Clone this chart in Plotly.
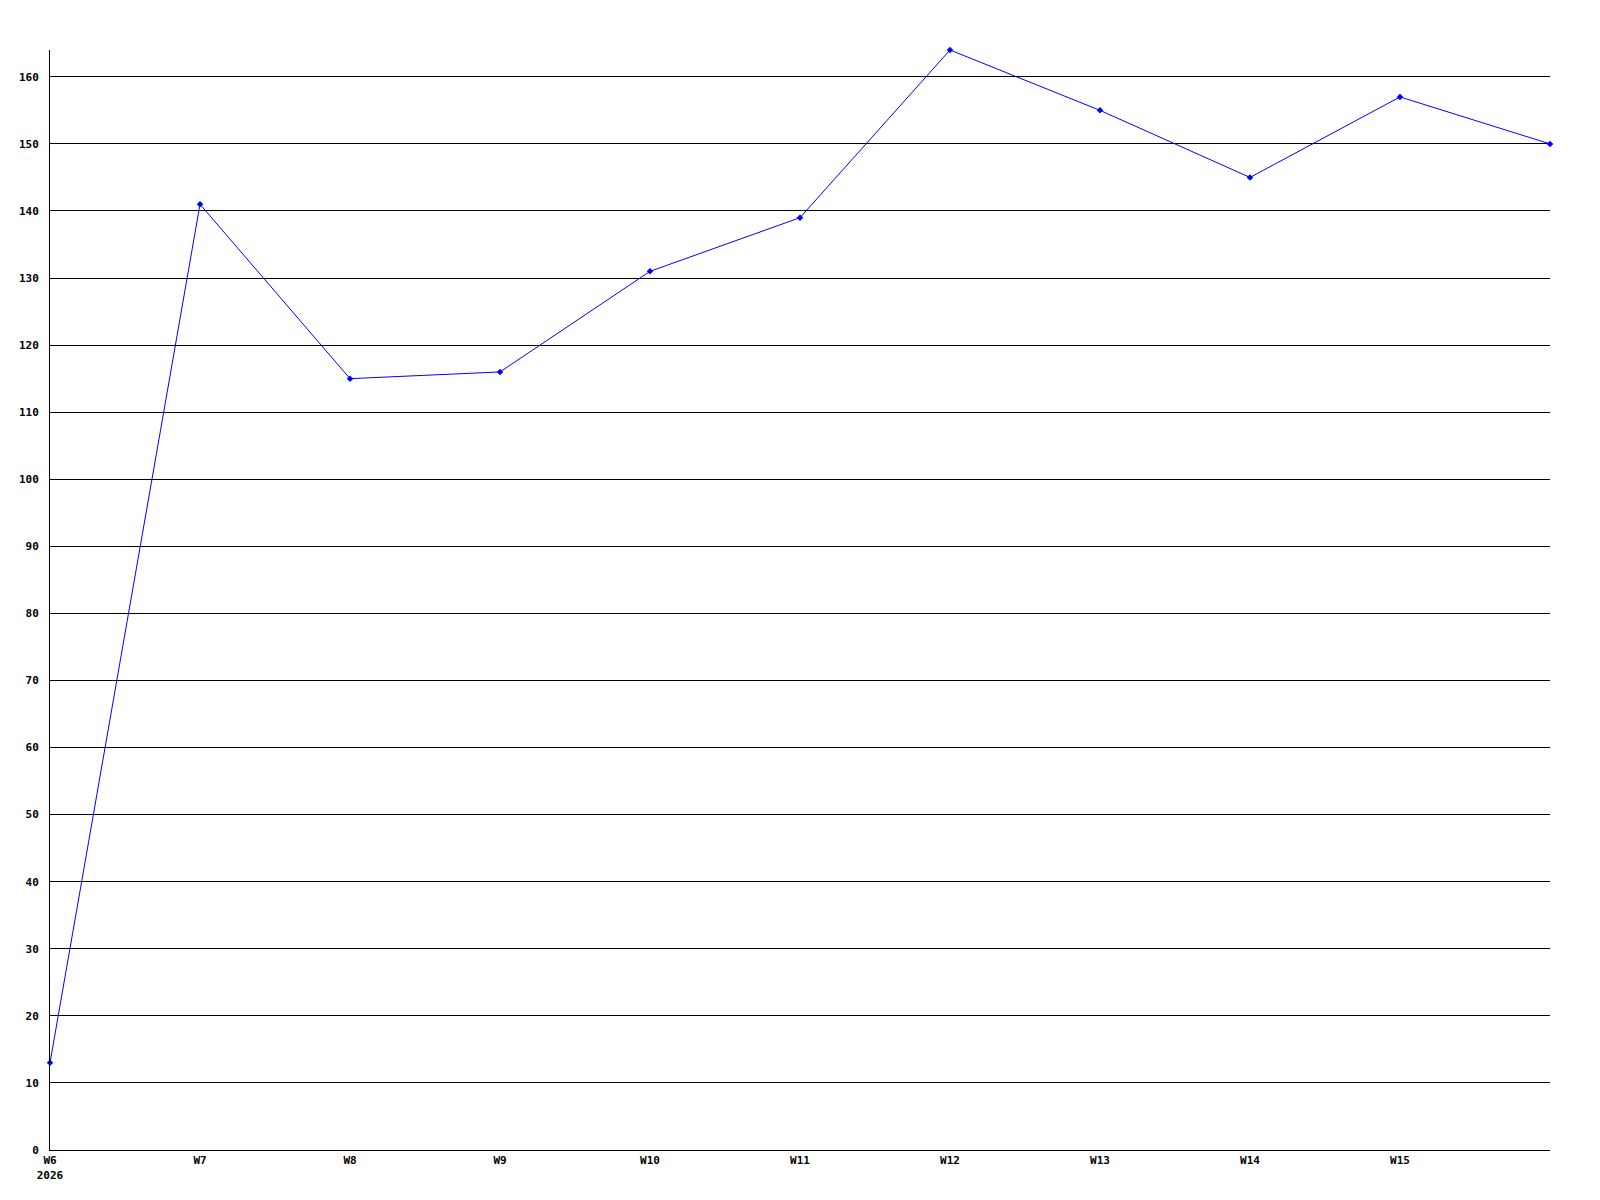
from plotly import graph_objs as go

weeks = [6, 7, 8, 9, 10, 11, 12, 13, 14, 15, 16]
counts = [13, 141, 115, 116, 131, 139, 164, 155, 145, 157, 150]
tick_weeks = [6, 7, 8, 9, 10, 11, 12, 13, 14, 15]
tick_labels = ["W6<br>2026", "W7", "W8", "W9", "W10", "W11", "W12", "W13", "W14", "W15"]
y_ticks = [0, 10, 20, 30, 40, 50, 60, 70, 80, 90, 100, 110, 120, 130, 140, 150, 160]

fig = go.Figure()
fig.add_trace(
    go.Scatter(
        x=weeks,
        y=counts,
        mode="lines+markers",
        line=dict(color="#0000ff", width=1),
        marker=dict(color="#0000ff", size=5, symbol="diamond"),
        cliponaxis=False,
        showlegend=False,
    )
)
# page body adds an 8px offset, so margins are trimmed to put the plot at 50..1550
fig.layout.update(
    width=1600,
    height=1200,
    margin=dict(l=42, r=58, t=42, b=58),
    paper_bgcolor="white",
    plot_bgcolor="white",
    font=dict(family="DejaVu Sans Mono", size=11, color="black"),
    xaxis=dict(
        range=[6, 16],
        tickvals=tick_weeks,
        ticktext=tick_labels,
        showgrid=False,
        zeroline=False,
        showline=True,
        linecolor="black",
        linewidth=1,
        ticks="",
        automargin=False,
        tickfont=dict(family="DejaVu Sans Mono", size=11, weight="bold"),
    ),
    yaxis=dict(
        range=[0, 164],
        tickvals=y_ticks,
        showgrid=True,
        gridcolor="black",
        gridwidth=1,
        zeroline=False,
        showline=True,
        linecolor="black",
        linewidth=1,
        ticks="",
        automargin=False,
        ticklabelstandoff=8,
        tickfont=dict(family="DejaVu Sans Mono", size=11, weight="bold"),
    ),
)
fig.write_html("out.html")
